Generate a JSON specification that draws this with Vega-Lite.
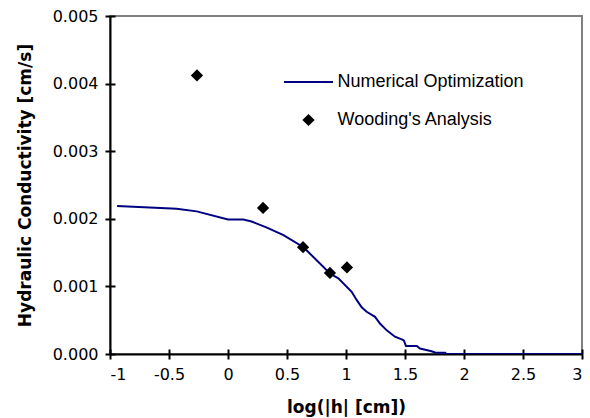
{
  "$schema": "https://vega.github.io/schema/vega-lite/v6.json",
  "width": 472,
  "height": 338,
  "autosize": {"type": "none"},
  "padding": {"left": 110, "top": 16, "right": 8, "bottom": 64},
  "background": "white",
  "config": {
    "view": {"stroke": "#808080", "strokeWidth": 2},
    "axis": {
      "domainColor": "black", "domainWidth": 2,
      "tickColor": "black", "tickWidth": 2, "tickSize": 5,
      "labelFont": "DejaVu Sans", "labelFontSize": 16, "labelColor": "black",
      "titleFont": "DejaVu Sans", "titleFontSize": 17, "titleFontWeight": "bold", "titleColor": "black",
      "grid": false
    }
  },
  "resolve": {"axis": {"x": "independent", "y": "independent"}},
  "datasets": {
    "curve": [
      {"x": -0.94, "y": 0.00219, "series": "Numerical Optimization"},
      {"x": -0.435, "y": 0.00215, "series": "Numerical Optimization"},
      {"x": -0.265, "y": 0.00211, "series": "Numerical Optimization"},
      {"x": 0.0, "y": 0.00199, "series": "Numerical Optimization"},
      {"x": 0.13, "y": 0.00199, "series": "Numerical Optimization"},
      {"x": 0.2, "y": 0.00196, "series": "Numerical Optimization"},
      {"x": 0.33, "y": 0.00187, "series": "Numerical Optimization"},
      {"x": 0.47, "y": 0.00176, "series": "Numerical Optimization"},
      {"x": 0.64, "y": 0.00158, "series": "Numerical Optimization"},
      {"x": 0.864, "y": 0.00119, "series": "Numerical Optimization"},
      {"x": 0.935, "y": 0.00112, "series": "Numerical Optimization"},
      {"x": 1.048, "y": 0.00092, "series": "Numerical Optimization"},
      {"x": 1.09, "y": 0.0008, "series": "Numerical Optimization"},
      {"x": 1.133, "y": 0.00069, "series": "Numerical Optimization"},
      {"x": 1.175, "y": 0.000625, "series": "Numerical Optimization"},
      {"x": 1.246, "y": 0.00055, "series": "Numerical Optimization"},
      {"x": 1.288, "y": 0.00045, "series": "Numerical Optimization"},
      {"x": 1.345, "y": 0.00035, "series": "Numerical Optimization"},
      {"x": 1.415, "y": 0.000256, "series": "Numerical Optimization"},
      {"x": 1.472, "y": 0.000216, "series": "Numerical Optimization"},
      {"x": 1.49, "y": 0.0002, "series": "Numerical Optimization"},
      {"x": 1.508, "y": 0.00012, "series": "Numerical Optimization"},
      {"x": 1.6, "y": 0.00012, "series": "Numerical Optimization"},
      {"x": 1.627, "y": 0.00008, "series": "Numerical Optimization"},
      {"x": 1.725, "y": 0.00004, "series": "Numerical Optimization"},
      {"x": 1.76, "y": 0.00002, "series": "Numerical Optimization"},
      {"x": 1.84, "y": 0.00002, "series": "Numerical Optimization"},
      {"x": 1.85, "y": 0.0, "series": "Numerical Optimization"},
      {"x": 3.0, "y": 0.0, "series": "Numerical Optimization"}
    ],
    "wooding": [
      {"x": -0.263, "y": 0.00412, "series": "Wooding's Analysis"},
      {"x": 0.297, "y": 0.00216, "series": "Wooding's Analysis"},
      {"x": 0.636, "y": 0.00158, "series": "Wooding's Analysis"},
      {"x": 0.864, "y": 0.0012, "series": "Wooding's Analysis"},
      {"x": 1.008, "y": 0.00128, "series": "Wooding's Analysis"}
    ]
  },
  "layer": [
    {
      "data": {"name": "curve"},
      "mark": {"type": "line", "strokeWidth": 2, "clip": true},
      "encoding": {
        "x": {
          "field": "x", "type": "quantitative",
          "scale": {"domain": [-1, 3], "nice": false, "zero": false},
          "axis": {
            "orient": "bottom",
            "title": "log(|h| [cm])",
            "values": [-1, -0.5, 0, 0.5, 1, 1.5, 2, 2.5, 3],
            "labelExpr": "datum.value < 0 ? '-' + format(-datum.value, '~g') : format(datum.value, '~g')",
            "labelPadding": 7, "titlePadding": 17
          }
        },
        "y": {
          "field": "y", "type": "quantitative",
          "scale": {"domain": [0, 0.005], "nice": false},
          "axis": {
            "orient": "left",
            "title": "Hydraulic Conductivity [cm/s]",
            "values": [0, 0.001, 0.002, 0.003, 0.004, 0.005],
            "format": ".3f",
            "labelPadding": 7, "titlePadding": 18
          }
        },
        "color": {
          "field": "series", "type": "nominal",
          "scale": {"domain": ["Numerical Optimization", "Wooding's Analysis"], "range": ["#000080", "black"]},
          "legend": {
            "title": null,
            "orient": "none",
            "legendX": 189.5,
            "legendY": 57,
            "padding": 0,
            "rowPadding": 20,
            "symbolSize": 1600,
            "labelOffset": 20,
            "labelLimit": 0,
            "labelFont": "Liberation Sans",
            "labelFontSize": 18,
            "labelColor": "black",
            "encode": {
              "symbols": {
                "update": {
                  "shape": {"signal": "datum.value === 'Numerical Optimization' ? 'stroke' : 'diamond'"},
                  "size": {"signal": "datum.value === 'Numerical Optimization' ? 2400 : 150"},
                  "stroke": {"signal": "datum.value === 'Numerical Optimization' ? '#000080' : 'black'"},
                  "fill": {"signal": "datum.value === 'Numerical Optimization' ? 'transparent' : 'black'"},
                  "strokeWidth": {"signal": "datum.value === 'Numerical Optimization' ? 2 : 0"},
                  "opacity": {"value": 1},
                  "fillOpacity": {"value": 1},
                  "strokeOpacity": {"value": 1}
                }
              }
            }
          }
        }
      }
    },
    {
      "data": {"name": "wooding"},
      "mark": {"type": "point", "shape": "diamond", "filled": true, "size": 150, "opacity": 1},
      "encoding": {
        "x": {
          "field": "x", "type": "quantitative",
          "axis": {"orient": "bottom", "title": null, "labels": false, "domain": false, "tickSize": -5, "values": [-1, -0.5, 0, 0.5, 1, 1.5, 2, 2.5, 3], "offset": 0}
        },
        "y": {
          "field": "y", "type": "quantitative",
          "axis": {"orient": "left", "title": null, "labels": false, "domain": false, "tickSize": -5, "values": [0, 0.001, 0.002, 0.003, 0.004, 0.005], "offset": 0}
        },
        "color": {"field": "series", "type": "nominal"}
      }
    }
  ]
}
